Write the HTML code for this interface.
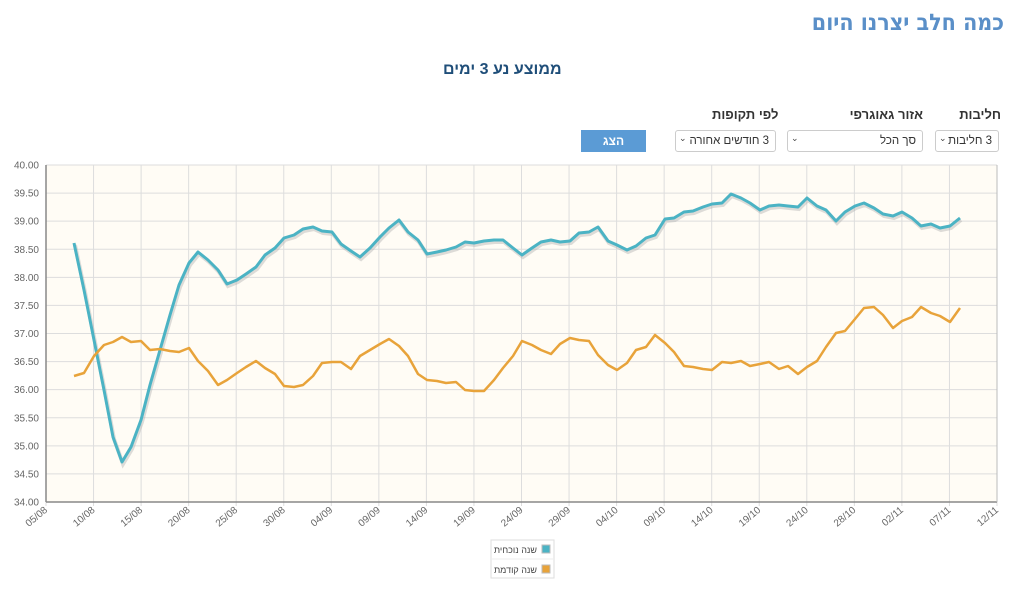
<!DOCTYPE html>
<html><head><meta charset="utf-8"><style>
body{margin:0;width:1024px;height:613px;background:#fff;font-family:"Liberation Sans",sans-serif;overflow:hidden;position:relative}
.a{position:absolute;white-space:nowrap}
.sel{position:absolute;height:22px;border:1px solid #ccc;border-radius:3px;background:#fff;font-size:11.5px;color:#333;box-sizing:border-box;line-height:20px}
.sel i{position:absolute;left:3px;top:-3px;font-style:normal;font-size:9px;color:#444}
.sel span{position:absolute;right:6px;top:0;direction:rtl;unicode-bidi:isolate}
</style></head><body>
<div class="a" style="right:20px;top:10px;font-size:23px;font-weight:bold;color:#5a8fc8;font-family:'DejaVu Sans Condensed','Liberation Sans',sans-serif;direction:rtl">כמה חלב יצרנו היום</div>
<div class="a" style="left:443px;top:61px;font-size:16px;font-weight:bold;color:#1f4e79;direction:rtl">ממוצע נע 3 ימים</div>
<div class="a" style="right:23px;top:107px;font-size:13px;font-weight:bold;color:#333">חליבות</div>
<div class="a" style="right:101px;top:107px;font-size:13px;font-weight:bold;color:#333">אזור גאוגרפי</div>
<div class="a" style="left:712px;top:107px;font-size:13px;font-weight:bold;color:#333">לפי תקופות</div>
<div class="sel" style="left:935px;top:130px;width:64px"><i>⌄</i><span>3 חליבות</span></div>
<div class="sel" style="left:787px;top:130px;width:136px"><i>⌄</i><span>סך הכל</span></div>
<div class="sel" style="left:675px;top:130px;width:101px"><i>⌄</i><span>3 חודשים אחורה</span></div>
<div class="a" style="left:581px;top:130px;width:65px;height:22px;background:#5b9bd5;color:#fff;font-size:12px;font-weight:bold;text-align:center;line-height:22px">הצג</div>
<svg class="a" style="left:0;top:0" width="1024" height="613" id="s">
<rect x="46" y="165" width="951" height="337" fill="#fffcf5"/>
<g id="grid" stroke="#ddd" stroke-width="1"></g>
<g id="lab" font-size="10" fill="#666" font-family="Liberation Sans, sans-serif"></g>
<line x1="46" y1="165" x2="46" y2="502" stroke="#888" stroke-width="1.5"/>
<line x1="46" y1="502" x2="997" y2="502" stroke="#888" stroke-width="1.5"/>
<line x1="997" y1="165" x2="997" y2="502" stroke="#bbb"/>
<polyline fill="none" stroke="#aaa" stroke-opacity="0.4" stroke-width="4" transform="translate(1,2)" points="74,243 84,290 94,340 104,390 113,437 122,462 131,447 141,420 150,385 160,350 170,315 179,285 189,263 198,252 208,260 218,270 227,284 237,280 246,274 256,267 265,255 275,248 284,238 294,235 303,229 313,227 322,231 332,232 341,244 351,251 360,257 370,248 380,237 389,228 399,220 408,232 418,240 427,254 437,252 446,250 456,247 465,242 474,243 484,241 494,240 503,240 513,248 522,255 532,248 541,242 551,240 560,242 570,241 579,233 589,232 598,227 608,241 617,245 627,250 636,246 646,238 655,235 665,219 674,218 684,212 693,211 703,207 712,204 722,203 731,194 741,198 750,203 760,210 769,206 779,205 788,206 798,207 807,198 817,206 826,210 836,221 845,212 855,206 864,203 874,208 883,214 893,216 902,212 912,218 921,226 931,224 940,228 950,226 960,218"/>
<polyline fill="none" stroke="#4bb3c4" stroke-width="3" stroke-linejoin="round" points="74,243 84,290 94,340 104,390 113,437 122,462 131,447 141,420 150,385 160,350 170,315 179,285 189,263 198,252 208,260 218,270 227,284 237,280 246,274 256,267 265,255 275,248 284,238 294,235 303,229 313,227 322,231 332,232 341,244 351,251 360,257 370,248 380,237 389,228 399,220 408,232 418,240 427,254 437,252 446,250 456,247 465,242 474,243 484,241 494,240 503,240 513,248 522,255 532,248 541,242 551,240 560,242 570,241 579,233 589,232 598,227 608,241 617,245 627,250 636,246 646,238 655,235 665,219 674,218 684,212 693,211 703,207 712,204 722,203 731,194 741,198 750,203 760,210 769,206 779,205 788,206 798,207 807,198 817,206 826,210 836,221 845,212 855,206 864,203 874,208 883,214 893,216 902,212 912,218 921,226 931,224 940,228 950,226 960,218"/>
<polyline fill="none" stroke="#e8a33a" stroke-width="2.5" stroke-linejoin="round" points="74,376 84,373 94,356 104,345 113,342 122,337 131,342 141,341 150,350 160,349 170,351 179,352 189,348 198,361 208,371 218,385 227,380 237,373 246,367 256,361 265,368 275,374 284,386 294,387 303,385 313,376 322,363 332,362 341,362 351,369 360,356 370,350 380,344 389,339 399,346 408,356 418,374 427,380 437,381 446,383 456,382 465,390 474,391 484,391 494,380 503,368 513,356 522,341 532,345 541,350 551,354 560,344 570,338 579,340 589,341 598,355 608,365 617,370 627,363 636,350 646,347 655,335 665,343 674,352 684,366 693,367 703,369 712,370 722,362 731,363 741,361 750,366 760,364 769,362 779,369 788,366 798,374 807,367 817,361 826,347 836,333 845,331 855,319 864,308 874,307 883,315 893,328 902,321 912,317 921,307 931,313 940,316 950,322 960,308"/>
<rect x="491" y="540" width="63" height="38" fill="#fff" stroke="#ddd"/>
<line x1="491" y1="559" x2="554" y2="559" stroke="#eee"/>
<rect x="542" y="545" width="8" height="8" fill="#4bb3c4" stroke="#bbb"/>
<rect x="542" y="565" width="8" height="8" fill="#e8a33a" stroke="#bbb"/>
<text x="537" y="553" font-size="9" fill="#444" text-anchor="end" font-family="Liberation Sans, sans-serif">שנה נוכחית</text>
<text x="537" y="573" font-size="9" fill="#444" text-anchor="end" font-family="Liberation Sans, sans-serif">שנה קודמת</text>
</svg>
<script>
var g=document.getElementById('grid'),l=document.getElementById('lab'),h='';
for(var i=0;i<=12;i++){var y=165+i*337/12;h+='<line x1="46" x2="997" y1="'+y+'" y2="'+y+'"/>';}
for(var i=0;i<=20;i++){var x=46+i*951/20;h+='<line y1="165" y2="506" x1="'+x+'" x2="'+x+'"/>';}
g.innerHTML=h;
var t='';
for(var i=0;i<=12;i++){var y=165+i*337/12;t+='<text x="39" y="'+(y+3.5)+'" text-anchor="end">'+(40-i*0.5).toFixed(2)+'</text>';}
var d=['05/08','10/08','15/08','20/08','25/08','30/08','04/09','09/09','14/09','19/09','24/09','29/09','04/10','09/10','14/10','19/10','24/10','28/10','02/11','07/11','12/11'];
for(var i=0;i<=20;i++){var x=46+i*951/20;t+='<text transform="translate('+(x+2)+',511) rotate(-40)" text-anchor="end">'+d[i]+'</text>';}
l.innerHTML=t;
</script>
</body></html>
